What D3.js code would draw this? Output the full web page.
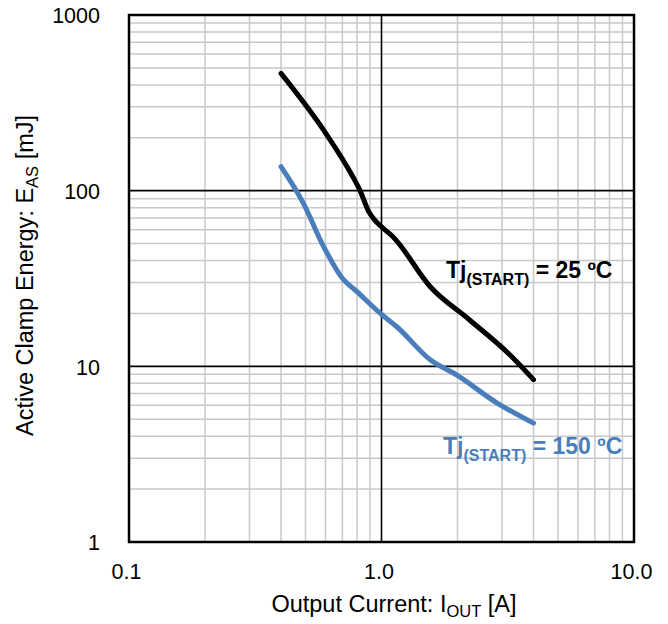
<!DOCTYPE html>
<html>
<head>
<meta charset="utf-8">
<script src="https://cdn.jsdelivr.net/npm/d3@7"></script>
<style>
  html, body { margin: 0; padding: 0; background: #fff; }
  text { font-family: "Liberation Sans", Arial, sans-serif; }
</style>
</head>
<body>
<svg id="chart" width="668" height="624"></svg>
<script>
// Active clamp energy vs output current, log-log, two start temperatures.

const current25 = [0.4, 0.59, 0.77, 0.82, 0.89, 0.94, 1.0, 1.11, 1.56, 2.24, 3.23, 4.0];
const energy25 = [465, 221, 120, 101, 76, 68, 62.3, 54.7, 28.4, 18.3, 11.6, 8.4];

const current150 = [0.4, 0.49, 0.59, 0.7, 0.8, 0.99, 1.15, 1.56, 1.99, 2.86, 4.0];
const energy150 = [137, 85, 48, 31.7, 26.6, 20, 16.8, 10.9, 8.9, 6.2, 4.75];

const xTicks = [0.1, 1, 10];
const xTickLabels = ['0.1', '1.0', '10.0'];
const yTicks = [1, 10, 100, 1000];
const yTickLabels = ['1', '10', '100', '1000'];

const margin = { left: 129, top: 15, right: 34, bottom: 82 };
const W = 668, H = 624;
const width = W - margin.left - margin.right;
const height = H - margin.top - margin.bottom;

const svg = d3.select('#chart');
const g = svg.append('g').attr('transform', `translate(${margin.left},${margin.top})`);

const x = d3.scaleLog().domain([0.1, 10]).range([0, width]);
const y = d3.scaleLog().domain([1, 1000]).range([height, 0]);

// minor grid (2..9 in each decade)
const minorX = [];
[0.1, 1].forEach((d) => { for (let k = 2; k <= 9; k++) minorX.push(d * k); });
const minorY = [];
[1, 10, 100].forEach((d) => { for (let k = 2; k <= 9; k++) minorY.push(d * k); });

g.selectAll('.grid-x-minor')
  .data(minorX)
  .join('line')
  .attr('class', 'grid-x-minor')
  .attr('x1', (d) => x(d)).attr('x2', (d) => x(d))
  .attr('y1', 0).attr('y2', height)
  .attr('stroke', '#c9c9c9').attr('stroke-width', 1.5);

g.selectAll('.grid-y-minor')
  .data(minorY)
  .join('line')
  .attr('class', 'grid-y-minor')
  .attr('y1', (d) => y(d)).attr('y2', (d) => y(d))
  .attr('x1', 0).attr('x2', width)
  .attr('stroke', '#c9c9c9').attr('stroke-width', 1.5);

// major grid
g.selectAll('.grid-x-major')
  .data([1])
  .join('line')
  .attr('class', 'grid-x-major')
  .attr('x1', (d) => x(d)).attr('x2', (d) => x(d))
  .attr('y1', 0).attr('y2', height)
  .attr('stroke', '#000').attr('stroke-width', 1.6);

g.selectAll('.grid-y-major')
  .data([10, 100])
  .join('line')
  .attr('class', 'grid-y-major')
  .attr('y1', (d) => y(d)).attr('y2', (d) => y(d))
  .attr('x1', 0).attr('x2', width)
  .attr('stroke', '#000').attr('stroke-width', 1.6);

// frame
g.append('rect')
  .attr('width', width).attr('height', height)
  .attr('fill', 'none').attr('stroke', '#000').attr('stroke-width', 2.5);

// axes (labels only)
const xAxis = d3.axisBottom(x).tickValues(xTicks)
  .tickFormat((d, i) => xTickLabels[i]).tickSize(0).tickPadding(0);
const yAxis = d3.axisLeft(y).tickValues(yTicks)
  .tickFormat((d, i) => yTickLabels[i]).tickSize(0).tickPadding(0);

const gx = g.append('g').attr('transform', `translate(0,${height})`).call(xAxis);
gx.select('.domain').remove();
gx.selectAll('text')
  .attr('font-size', 21.5).attr('fill', '#000')
  .attr('dy', null).attr('y', 37).attr('x', -3)
  .style('font-family', '"Liberation Sans", Arial, sans-serif');

const gy = g.append('g').call(yAxis);
gy.select('.domain').remove();
gy.selectAll('text')
  .attr('font-size', 21.5).attr('fill', '#000')
  .attr('x', -29).attr('dy', '0.36em')
  .style('font-family', '"Liberation Sans", Arial, sans-serif');

// curves
const line = d3.line()
  .x((d) => x(d[0]))
  .y((d) => y(d[1]))
  .curve(d3.curveMonotoneX);

const series = [
  { values: d3.zip(current25, energy25), color: '#000000' },
  { values: d3.zip(current150, energy150), color: '#4a7ebb' },
];

g.selectAll('.curve')
  .data(series)
  .join('path')
  .attr('class', 'curve')
  .attr('d', (d) => line(d.values))
  .attr('fill', 'none')
  .attr('stroke', (d) => d.color)
  .attr('stroke-width', 5)
  .attr('stroke-linecap', 'round')
  .attr('stroke-linejoin', 'round');

// annotations
function tjLabel(px, py, temp, color) {
  const t = svg.append('text')
    .attr('x', px).attr('y', py)
    .attr('fill', color).attr('font-weight', 'bold').attr('font-size', 23);
  t.append('tspan').text('Tj');
  t.append('tspan').attr('font-size', 16).attr('dy', 7).text('(START)');
  t.append('tspan').attr('dy', -7).text(` = ${temp} ºC`);
}
tjLabel(446, 278, 25, '#000');
tjLabel(443, 454, 150, '#4a7ebb');

// axis titles
const xt = svg.append('text')
  .attr('x', 394).attr('y', 612)
  .attr('text-anchor', 'middle').attr('font-size', 23.5).attr('fill', '#000');
xt.append('tspan').text('Output Current: I');
xt.append('tspan').attr('font-size', 16.5).attr('dy', 5).text('OUT');
xt.append('tspan').attr('dy', -5).text(' [A]');

const yt = svg.append('text')
  .attr('transform', `translate(33,${margin.top + height / 2 - 3}) rotate(-90)`)
  .attr('text-anchor', 'middle').attr('font-size', 23.5).attr('fill', '#000');
yt.append('tspan').text('Active Clamp Energy: E');
yt.append('tspan').attr('font-size', 16.5).attr('dy', 5).text('AS');
yt.append('tspan').attr('dy', -5).text(' [mJ]');
</script>
</body>
</html>
